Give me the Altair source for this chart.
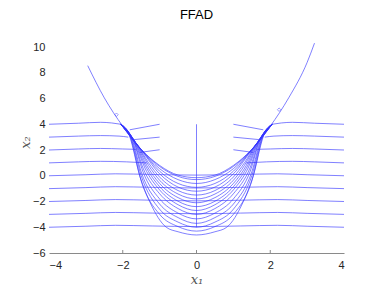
import altair as alt
import pandas as pd

# ---- data ----
title_text = ["FFAD"]

parabola_x = [-2.95, -2.5, -2.0, -1.5, -1.0, -0.5, 0.0, 0.5, 1.0, 1.5, 2.0, 2.5, 3.0, 3.2]
parabola_y = [8.55, 6.05, 3.85, 2.05, 0.8, 0.05, -0.15, 0.05, 0.8, 2.05, 3.85, 6.05, 8.8, 10.3]

# U shaped trajectories (right half; the left half is the mirror image)
u_half_x = [
    [0, 0.5, 1.0, 1.45, 2.05],
    [0, 0.5, 1.0, 1.5, 2.05],
    [0, 0.5, 1.0, 1.52, 2.05],
    [0, 0.5, 1.0, 1.55, 2.05],
    [0, 0.5, 1.0, 1.3, 1.58, 2.05],
    [0, 0.5, 1.0, 1.3, 1.6, 2.05],
    [0, 0.5, 1.0, 1.35, 1.62, 2.05],
    [0, 0.5, 1.0, 1.4, 1.65, 2.05],
    [0, 0.5, 1.0, 1.4, 1.68, 2.05],
    [0, 0.5, 1.0, 1.45, 1.7, 2.05],
    [0, 0.5, 1.0, 1.45, 1.72, 2.05],
    [0, 0.5, 1.0, 1.5, 1.75, 2.05],
    [0, 0.5, 1.0, 1.5, 1.78, 2.05],
    [0, 0.5, 1.0, 1.5, 1.8, 2.05],
    [0, 0.5, 0.82, 1.27, 1.54, 1.82, 2.05],
]
u_half_y = [
    [-0.3, -0.05, 0.72, 1.88, 4.0],
    [-0.6, -0.3, 0.55, 2.03, 4.0],
    [-0.9, -0.6, 0.35, 2.11, 4.0],
    [-1.2, -0.88, 0.15, 2.2, 4.0],
    [-1.5, -1.15, -0.1, 1.0, 2.3, 4.0],
    [-1.8, -1.42, -0.35, 0.8, 2.36, 4.0],
    [-2.1, -1.7, -0.6, 0.8, 2.42, 4.0],
    [-2.4, -1.98, -0.85, 0.85, 2.52, 4.0],
    [-2.7, -2.25, -1.1, 0.6, 2.62, 4.0],
    [-3.0, -2.55, -1.4, 0.6, 2.69, 4.0],
    [-3.35, -2.9, -1.8, 0.3, 2.76, 4.0],
    [-3.7, -3.25, -2.2, 0.3, 2.86, 4.0],
    [-4.0, -3.6, -2.6, 0.0, 2.97, 4.0],
    [-4.3, -3.95, -3.0, -0.4, 3.04, 4.0],
    [-4.6, -4.35, -4.0, -2.0, 0.0, 3.11, 4.0],
]

# horizontal trajectories crossing the whole plot (levels 0 .. -4)
cross_levels = [0, -1, -2, -3, -4]
cross_x = [-4.0, -3.0, -2.2, -1.2, 0.0, 1.2, 2.2, 3.0, 4.0]
cross_dy = [0.0, 0.08, 0.15, 0.1, 0.05, 0.1, 0.15, 0.08, 0.0]

# horizontal trajectories that end on the parabola (levels 1 .. 4), left side
upper_x = [
    [-4.0, -3.2, -2.6, -1.9, -1.35],
    [-4.0, -3.2, -2.6, -2.0, -1.63],
    [-4.0, -3.2, -2.6, -2.1, -1.85],
    [-4.0, -3.2, -2.6, -2.3, -2.05],
]
upper_y = [
    [1.0, 1.08, 1.12, 1.08, 1.0],
    [2.0, 2.08, 2.12, 2.08, 2.05],
    [3.0, 3.08, 3.12, 3.08, 3.0],
    [4.0, 4.08, 4.15, 4.1, 4.0],
]

# short sloped segments (left side; right side mirrored)
seg_x = [[-1.81, -1.0], [-1.72, -1.0], [-1.54, -1.0]]
seg_y = [[3.57, 4.0], [2.8, 3.0], [1.81, 2.02]]

# vertical trajectory on x1 = 0
vert_x = [0.0, 0.0]
vert_y = [-4.0, 4.0]

marker_x = [-2.17, 2.24]
marker_y = [4.74, 5.13]

x_ticks = [-4, -2, 0, 2, 4]
y_ticks = [-6, -4, -2, 0, 2, 4, 6, 8, 10]
x_inner_ticks = [-2, 0, 2]

# ---- build tables ----
smooth_rows = []
cid = 0
smooth_rows += [{"id": cid, "x": a, "y": b} for a, b in zip(parabola_x, parabola_y)]
for hx, hy in zip(u_half_x, u_half_y):
    cid += 1
    pts = [(-a, b) for a, b in zip(hx[::-1], hy[::-1]) if a != 0] + list(zip(hx, hy))
    smooth_rows += [{"id": cid, "x": a, "y": b} for a, b in pts]
for c in cross_levels:
    cid += 1
    smooth_rows += [{"id": cid, "x": a, "y": c + d} for a, d in zip(cross_x, cross_dy)]
for ux, uy in zip(upper_x, upper_y):
    cid += 1
    smooth_rows += [{"id": cid, "x": a, "y": b} for a, b in zip(ux, uy)]
    cid += 1
    smooth_rows += [{"id": cid, "x": -a, "y": b} for a, b in zip(ux, uy)]
smooth = pd.DataFrame(smooth_rows)

lin_rows = []
lid = 0
for sx, sy in zip(seg_x, seg_y):
    lin_rows += [{"id": lid, "x": a, "y": b, "o": i} for i, (a, b) in enumerate(zip(sx, sy))]
    lid += 1
    lin_rows += [{"id": lid, "x": -a, "y": b, "o": i} for i, (a, b) in enumerate(zip(sx, sy))]
    lid += 1
lin_rows += [{"id": lid, "x": a, "y": b, "o": i} for i, (a, b) in enumerate(zip(vert_x, vert_y))]
lin = pd.DataFrame(lin_rows)

markers = pd.DataFrame({"x": marker_x, "y": marker_y})
xt = pd.DataFrame({"x": x_inner_ticks})
ttl = pd.DataFrame({"t": title_text})

W, H = 295, 206
LINE = "#3535ff"

xs = alt.Scale(domain=[-4, 4], nice=False, zero=False)
ys = alt.Scale(domain=[-6, 10], nice=False, zero=False)

x_axis = alt.Axis(
    values=x_ticks, ticks=False, grid=False, domainColor="#8a8a8a", domainWidth=1,
    labelFont="Liberation Sans", labelFontSize=11, labelColor="#262626", labelPadding=6,
    labelOverlap=False,
    title="x₁", titleFont="DejaVu Serif", titleFontStyle="italic", titleFontWeight="normal",
    titleFontSize=13, titleColor="#555555", titleY=26, titleBaseline="middle",
)
y_axis = alt.Axis(
    values=y_ticks, ticks=False, grid=False, domain=False,
    labelFont="Liberation Sans", labelFontSize=11, labelColor="#262626", labelPadding=4,
    labelOverlap=False,
    title="x₂", titleFont="DejaVu Serif", titleFontStyle="italic", titleFontWeight="normal",
    titleFontSize=13, titleColor="#555555", titleX=-24, titleY=95, titleAngle=270,
    titleAlign="center", titleBaseline="middle",
)

curves = alt.Chart(smooth).mark_line(
    interpolate="monotone", strokeWidth=0.7, color=LINE, opacity=0.9
).encode(
    x=alt.X("x:Q", scale=xs, axis=x_axis),
    y=alt.Y("y:Q", scale=ys, axis=y_axis),
    detail="id:N",
)

straight = alt.Chart(lin).mark_line(strokeWidth=0.7, color=LINE, opacity=0.9).encode(
    x=alt.X("x:Q", scale=xs, axis=x_axis),
    y=alt.Y("y:Q", scale=ys, axis=y_axis),
    detail="id:N",
    order="o:Q",
)

pts = alt.Chart(markers).mark_point(shape="diamond", size=12, color=LINE, strokeWidth=0.6, opacity=0.8).encode(
    x=alt.X("x:Q", scale=xs, axis=x_axis),
    y=alt.Y("y:Q", scale=ys, axis=y_axis),
)

ticks = alt.Chart(xt).mark_rule(color="#8a8a8a", strokeWidth=1).encode(
    x=alt.X("x:Q", scale=xs, axis=x_axis),
    y=alt.value(H),
    y2=alt.value(H - 3),
)

title = alt.Chart(ttl).mark_text(
    font="Liberation Sans", fontSize=13, color="#000000", baseline="alphabetic", align="center"
).encode(
    text="t:N",
    x=alt.value(W / 2),
    y=alt.value(-28),
)

chart = alt.layer(curves, straight, pts, ticks, title).properties(
    width=W,
    height=H,
    background="white",
    autosize=alt.AutoSizeParams(type="none"),
    padding={"left": 41, "top": 39, "right": 29, "bottom": 40},
).configure_view(stroke=None).configure_axis(labelOverlap=False)

chart.save("out.html", embed_options={"renderer": "svg", "actions": False})
